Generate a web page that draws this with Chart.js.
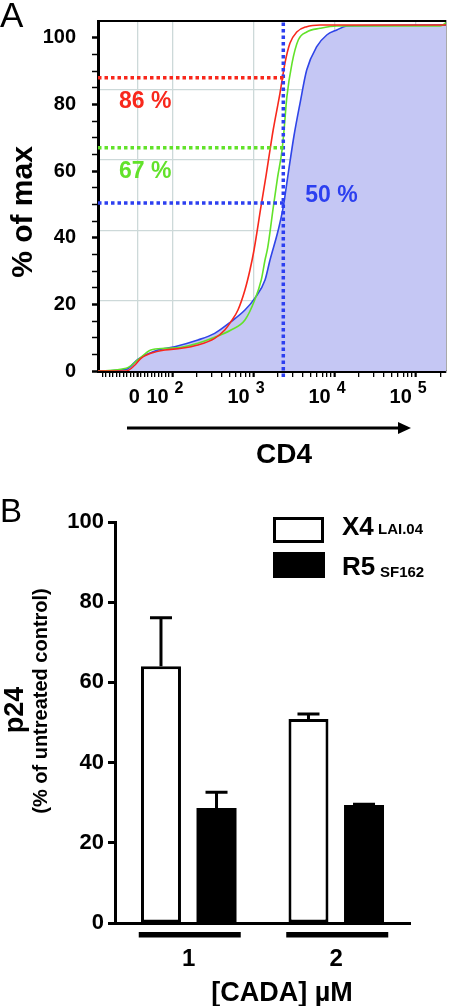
<!DOCTYPE html>
<html lang="en">
<head>
<meta charset="UTF-8">
<title>CD4 / p24</title>
<script src="https://cdn.jsdelivr.net/npm/chart.js"></script>
<style>
  html, body { margin: 0; padding: 0; background: #fff; }
  #wrapA { position: absolute; left: 0; top: 0; }
  #wrapB { position: absolute; left: 0; top: 470px; }
</style>
</head>
<body>
<div id="wrapA"><canvas id="chartA" width="450" height="470"></canvas></div>
<div id="wrapB"><canvas id="chartB" width="450" height="536"></canvas></div>
<script>
const FONT = '"Liberation Sans", Arial, sans-serif';
Chart.defaults.font.family = FONT;
Chart.defaults.color = '#000';

// ---------- panel A : cumulative CD4 histograms ----------
const cd4Blue = [-112, -32, 1, 58, 106, 205, 330, 525, 780, 1030, 1380, 1590, 2010, 2320, 2670, 3140, 3730, 4510, 6000, 7970, 10600, 14100, 236000];
const pctBlue = [0, 0.5, 3.5, 6.3, 7.3, 9.3, 11.3, 14.8, 18.3, 21.8, 27.3, 33.3, 42.3, 49.3, 59.3, 70.5, 80.3, 90.3, 97.3, 100.8, 102.3, 103.5, 103.8];

const cd4Green = [-112, -32, 1, 38, 78, 128, 205, 330, 525, 780, 1030, 1240, 1380, 1490, 1750, 1970, 2240, 2370, 2570, 2970, 3550, 4510, 6600, 10600, 200000, 236000];
const pctGreen = [0, 0.8, 3.3, 6.3, 6.8, 7.1, 8.3, 10.1, 12.3, 15.3, 21.3, 27.3, 33.3, 37, 49.3, 58, 66.3, 72.3, 82.3, 92.3, 99.3, 101.7, 102.8, 103.5, 103.5, 104.5];

const cd4Red = [-112, -32, -7, 10, 38, 78, 128, 205, 330, 440, 525, 640, 780, 900, 1010, 1230, 1430, 1590, 1740, 2110, 2430, 2800, 3400, 4510, 6600, 236000];
const pctRed = [0, 0, 1.8, 3.8, 5.3, 6.3, 6.8, 7.8, 9.8, 12.3, 14.8, 18.3, 24.3, 30.3, 36.3, 49.3, 59, 66.3, 72.3, 83.3, 92.3, 98.3, 101.7, 103.3, 103.8, 103.8];

// dotted read-off lines
const markerCD4 = 2320;
const markerPct = [88, 67, 50.4];
const markerText = ['86 %', '67 %', '50 %'];

const majorCD4 = [0, 100, 1000, 10000, 100000];
const minorCD4 = [-100, -90, -80, -70, -60, -50, -40, -30, -20, -10,
  10, 20, 30, 40, 50, 60, 70, 80, 90,
  200, 300, 400, 500, 600, 700, 800, 900,
  2000, 3000, 4000, 5000, 6000, 7000, 8000, 9000,
  20000, 30000, 40000, 50000, 60000, 70000, 80000, 90000, 200000];
const pctTicks = [0, 5, 10, 15, 20, 25, 30, 35, 40, 45, 50, 55, 60, 65, 70, 75, 80, 85, 90, 95, 100];
const innerGrid = [20, 40, 60, 80];

// ---------- panel B : p24 bars ----------
const doses = ['1', '2'];
const x4Values = [64, 50.9];
const x4Errors = [12.1, 1.2];
const r5Values = [28.7, 29.4];
const r5Errors = [3.9, 0.2];

const RED = '#f8281c';
const GREEN = '#62e22a';
const BLUE = '#2c3ff0';
const LAVENDER = '#c5c7f4';
const GRID = '#cdd9d9';

// biexponential-like display: linear below 100, log above
function logicle(v) {
  return v >= 100 ? Math.log10(v) : 2 + (v - 100) / (100 * Math.LN10);
}
const xMin = logicle(-112);
const xMax = logicle(236000);
const toPts = (xs, ys) => xs.map((v, i) => ({ x: logicle(v), y: ys[i] }));

function curve(data, color, order, fillColor) {
  return {
    data, borderColor: color, borderWidth: 1.6, pointRadius: 0,
    cubicInterpolationMode: 'monotone', order,
    fill: fillColor ? 'origin' : false,
    backgroundColor: fillColor || 'transparent'
  };
}
function dotted(data, color) {
  return {
    data, borderColor: color, borderWidth: 3.5, borderDash: [3.5, 3],
    pointRadius: 0, fill: false, order: 0, clip: false
  };
}

const mx = logicle(markerCD4);

const panelA = {
  id: 'panelA',
  afterDraw(chart) {
    const { ctx, chartArea: a, scales: { x, y } } = chart;
    ctx.save();
    // top frame
    ctx.strokeStyle = '#000';
    ctx.lineWidth = 2;
    ctx.beginPath();
    ctx.moveTo(a.left, a.top);
    ctx.lineTo(a.right, a.top);
    ctx.stroke();

    // x tick labels 0, 10^2 ...
    ctx.fillStyle = '#000';
    ctx.textBaseline = 'alphabetic';
    majorCD4.forEach(v => {
      const px = x.getPixelForValue(logicle(v));
      ctx.font = 'bold 20px "Liberation Sans Narrow", ' + FONT;
      if (v === 0) {
        ctx.textAlign = 'center';
        ctx.fillText('0', px - 3, a.bottom + 32);
      } else {
        ctx.textAlign = 'right';
        ctx.fillText('10', px - 4, a.bottom + 32);
        ctx.font = 'bold 16px "Liberation Sans Narrow", ' + FONT;
        ctx.textAlign = 'left';
        ctx.fillText(String(Math.round(Math.log10(v))), px + 2, a.bottom + 22);
      }
    });

    // arrow + CD4
    const ay = a.bottom + 57;
    ctx.lineWidth = 3;
    ctx.beginPath();
    ctx.moveTo(127, ay);
    ctx.lineTo(400, ay);
    ctx.stroke();
    ctx.beginPath();
    ctx.moveTo(411, ay);
    ctx.lineTo(398, ay - 6);
    ctx.lineTo(398, ay + 6);
    ctx.closePath();
    ctx.fill();
    ctx.font = 'bold 28px ' + FONT;
    ctx.textAlign = 'center';
    ctx.fillText('CD4', 284, a.bottom + 92);

    // y title
    ctx.save();
    ctx.translate(32, 212);
    ctx.rotate(-Math.PI / 2);
    ctx.font = 'bold 30px ' + FONT;
    ctx.fillText('% of max', 0, 0);
    ctx.restore();

    // percentage labels
    ctx.font = 'bold 23px ' + FONT;
    ctx.textAlign = 'left';
    ctx.fillStyle = RED;
    ctx.fillText(markerText[0], a.left + 21, y.getPixelForValue(markerPct[0]) + 30);
    ctx.fillStyle = GREEN;
    ctx.fillText(markerText[1], a.left + 21, y.getPixelForValue(markerPct[1]) + 30);
    ctx.fillStyle = BLUE;
    ctx.fillText(markerText[2], x.getPixelForValue(mx) + 22, y.getPixelForValue(markerPct[2]) - 1);

    // panel letter
    ctx.fillStyle = '#000';
    ctx.font = '35px ' + FONT;
    ctx.fillText('A', 0, 27);
    ctx.restore();
  }
};

new Chart(document.getElementById('chartA'), {
  type: 'line',
  data: {
    datasets: [
      dotted([{ x: xMin, y: markerPct[0] }, { x: mx + 0.03, y: markerPct[0] }], RED),
      dotted([{ x: xMin, y: markerPct[1] }, { x: mx + 0.03, y: markerPct[1] }], GREEN),
      dotted([{ x: xMin, y: markerPct[2] }, { x: mx, y: markerPct[2] }], BLUE),
      dotted([{ x: mx, y: -1.8 }, { x: mx, y: 105 }], BLUE),
      curve(toPts(cd4Red, pctRed), RED, 1),
      curve(toPts(cd4Green, pctGreen), GREEN, 2),
      curve(toPts(cd4Blue, pctBlue), '#2f45e8', 3, LAVENDER)
    ]
  },
  options: {
    responsive: false,
    animation: false,
    devicePixelRatio: 1,
    layout: { padding: { top: 21, right: 4, left: 0, bottom: 0 } },
    plugins: {
      legend: { display: false },
      tooltip: { enabled: false },
      filler: { drawTime: 'beforeDatasetsDraw' }
    },
    scales: {
      x: {
        type: 'linear', min: xMin, max: xMax,
        afterBuildTicks: s => {
          s.ticks = majorCD4.concat(minorCD4).sort((p, q) => p - q)
            .map(v => ({ value: logicle(v), major: majorCD4.includes(v) }));
        },
        afterFit: s => { s.height = 99; },
        ticks: { display: false, autoSkip: false },
        grid: {
          color: c => (c.tick && c.tick.major ? GRID : 'rgba(0,0,0,0)'),
          lineWidth: 1.3,
          tickColor: '#000',
          tickLength: 6,
          tickWidth: c => (c.tick && c.tick.major ? 2.2 : 1.3)
        },
        border: { color: '#000', width: 3 }
      },
      y: {
        min: 0, max: 105,
        afterBuildTicks: s => { s.ticks = pctTicks.map(v => ({ value: v })); },
        afterFit: s => { s.width = 98; s.paddingTop = 0; s.paddingBottom = 0; },
        ticks: {
          autoSkip: false,
          padding: 16,
          font: { size: 20, weight: 'bold' },
          callback: v => (v % 20 === 0 ? v : '')
        },
        grid: {
          drawOnChartArea: false,
          tickLength: 6,
          tickColor: '#000',
          tickWidth: c => (c.tick && c.tick.value % 20 === 0 ? 2.5 : 1.5)
        },
        border: { color: '#000', width: 3 }
      },
      y2: {
        position: 'right',
        min: 0, max: 99.5,
        afterBuildTicks: s => { s.ticks = innerGrid.map(v => ({ value: v })); },
        afterFit: s => { s.width = 0; s.paddingTop = 0; s.paddingBottom = 0; },
        ticks: { display: false },
        grid: { drawTicks: false, color: GRID, lineWidth: 1.3 },
        border: { color: '#555', width: 1.5 }
      }
    }
  },
  plugins: [panelA]
});

// ---------- panel B ----------
const panelB = {
  id: 'panelB',
  afterDatasetsDraw(chart) {
    const { ctx, scales: { y } } = chart;
    ctx.save();
    ctx.strokeStyle = '#000';
    ctx.lineWidth = 3;
    chart.data.datasets.forEach((ds, di) => {
      chart.getDatasetMeta(di).data.forEach((bar, i) => {
        const top = y.getPixelForValue(ds.data[i] + ds.errors[i]);
        ctx.beginPath();
        ctx.moveTo(bar.x, bar.y);
        ctx.lineTo(bar.x, top);
        ctx.moveTo(bar.x - 11, top);
        ctx.lineTo(bar.x + 11, top);
        ctx.stroke();
      });
    });
    ctx.restore();
  },
  afterDraw(chart) {
    const { ctx, chartArea: a, scales: { x } } = chart;
    ctx.save();
    ctx.fillStyle = '#000';
    // group underlines
    doses.forEach((d, i) => {
      const cx = x.getPixelForValue(i);
      ctx.fillRect(cx - 50, a.bottom + 9, 102, 5.5);
    });
    // legend
    ctx.strokeStyle = '#000';
    ctx.lineWidth = 3;
    ctx.strokeRect(274.5, 48.5, 48, 23);
    ctx.fillRect(273, 82, 52, 26);
    ctx.textAlign = 'left';
    ctx.textBaseline = 'alphabetic';
    ctx.font = 'bold 26px ' + FONT;
    ctx.fillText('X4', 342, 65);
    ctx.fillText('R5', 342, 105);
    ctx.font = 'bold 15px ' + FONT;
    ctx.fillText('LAI.04', 378, 64);
    ctx.fillText('SF162', 380, 107);
    // x title
    ctx.textAlign = 'center';
    ctx.font = 'bold 27px ' + FONT;
    ctx.fillText('[CADA] \u00b5M', 282, 531);
    // y titles
    ctx.save();
    ctx.translate(23, 240);
    ctx.rotate(-Math.PI / 2);
    ctx.font = 'bold 27px ' + FONT;
    ctx.fillText('p24', 0, 0);
    ctx.restore();
    ctx.save();
    ctx.translate(47, 231);
    ctx.rotate(-Math.PI / 2);
    ctx.font = 'bold 20px ' + FONT;
    ctx.fillText('(% of untreated control)', 0, 0);
    ctx.restore();
    // panel letter
    ctx.textAlign = 'left';
    ctx.font = '33px ' + FONT;
    ctx.fillText('B', 0, 52);
    ctx.restore();
  }
};

new Chart(document.getElementById('chartB'), {
  type: 'bar',
  data: {
    labels: doses,
    datasets: [
      { label: 'X4 LAI.04', data: x4Values, errors: x4Errors, backgroundColor: '#fff', borderColor: '#000', borderWidth: 3, borderSkipped: false },
      { label: 'R5 SF162', data: r5Values, errors: r5Errors, backgroundColor: '#000', borderColor: '#000', borderWidth: 0 }
    ]
  },
  options: {
    responsive: false,
    animation: false,
    devicePixelRatio: 1,
    layout: { padding: { top: 52, right: 40, left: 0, bottom: 0 } },
    datasets: { bar: { categoryPercentage: 0.753, barPercentage: 0.72 } },
    plugins: { legend: { display: false }, tooltip: { enabled: false } },
    scales: {
      x: {
        afterFit: s => { s.height = 83; },
        grid: { display: false },
        border: { color: '#000', width: 3 },
        ticks: { padding: 14, font: { size: 24, weight: 'bold' } }
      },
      y: {
        min: 0, max: 100,
        afterFit: s => { s.width = 115; },
        ticks: { stepSize: 20, padding: 4, font: { size: 22, weight: 'bold' } },
        grid: { drawOnChartArea: false, tickLength: 7, tickWidth: 3, tickColor: '#000' },
        border: { color: '#000', width: 3 }
      }
    }
  },
  plugins: [panelB]
});
</script>
</body>
</html>
